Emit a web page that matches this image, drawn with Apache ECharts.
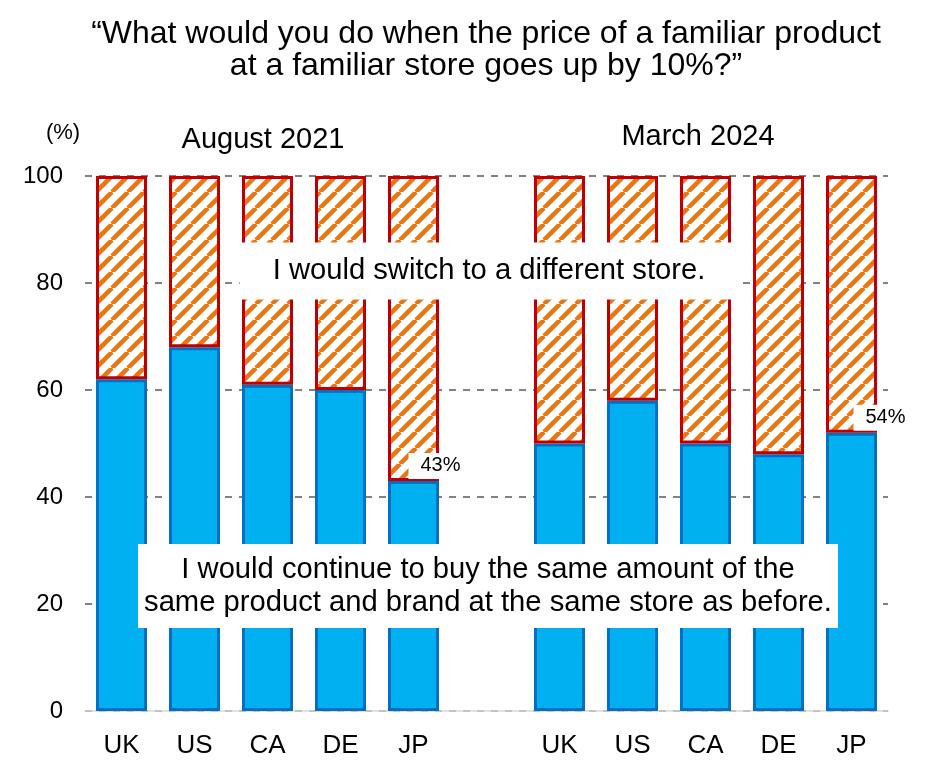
<!DOCTYPE html>
<html>
<head>
<meta charset="utf-8">
<script src="https://cdn.jsdelivr.net/npm/echarts@6/dist/echarts.min.js"></script>
<style>
  html, body { margin: 0; padding: 0; background: #fff; }
  #chart { width: 942px; height: 774px; }
</style>
</head>
<body>
<div id="chart"></div>
<script>
// categories: 5 countries per survey, blank slot between the two groups
const categories = ['UK', 'US', 'CA', 'DE', 'JP', '', 'UK', 'US', 'CA', 'DE', 'JP']
// "continue to buy the same" share (%)
const sameValues = [62, 68, 61, 60, 43, '-', 50, 58, 50, 48, 52]
// "switch to a different store" share (%)
const switchValues = [38, 32, 39, 40, 57, '-', 50, 42, 50, 52, 48]
// value labels shown on JP bars
const valueLabels = ['', '', '', '', '43%', '', '', '', '', '', '54%']
const yTicks = [0, 20, 40, 60, 80, 100]

const font = 'Liberation Sans, Arial, sans-serif'

// hatch tile for the "switch" bars
const makeHatch = () => {
  const size = 16
  const c = document.createElement('canvas')
  c.width = size
  c.height = size
  const ctx = c.getContext('2d')
  ctx.fillStyle = '#ffffff'
  ctx.fillRect(0, 0, size, size)
  ctx.strokeStyle = '#E97612'
  ctx.lineWidth = 4.5
  ctx.beginPath()
  for (let k = -1; k <= 1; k++) {
    ctx.moveTo(k * size, size)
    ctx.lineTo(k * size + size, 0)
  }
  ctx.stroke()
  return c
}

const chart = echarts.init(document.getElementById('chart'))

// labels sit on the hatched series so they draw above every bar
const switchData = switchValues.map((v, i) => {
  const item = { value: v }
  if (valueLabels[i]) {
    item.label = {
      show: true,
      position: 'insideBottom',
      distance: 0,
      offset: [i === 10 ? 29 : 22, -2],
      formatter: valueLabels[i],
      color: '#000',
      fontSize: 20,
      fontFamily: font,
      backgroundColor: '#fff',
      padding: [3, 2, 3, 12]
    }
  }
  return item
})

const option = {
  animation: false,
  backgroundColor: '#fff',
  textStyle: { fontFamily: font },
  title: {
    text: '\u201CWhat would you do when the price of a familiar product\nat a familiar store goes up by 10%?\u201D',
    left: 481,
    top: 13,
    textAlign: 'center',
    textStyle: { fontSize: 32, fontWeight: 'normal', color: '#000', lineHeight: 32, fontFamily: font }
  },
  grid: { left: 85, right: 54, top: 176, bottom: 63 },
  xAxis: {
    type: 'category',
    data: categories,
    axisTick: { show: false },
    axisLine: { lineStyle: { color: '#d9d9d9', width: 1.5 } },
    axisLabel: { color: '#000', fontSize: 26, margin: 22, fontFamily: font }
  },
  yAxis: {
    type: 'value',
    min: yTicks[0],
    max: yTicks[yTicks.length - 1],
    interval: 20,
    axisLine: { show: false },
    axisTick: { show: false },
    axisLabel: { color: '#000', fontSize: 24, margin: 22, fontFamily: font },
    splitLine: { lineStyle: { color: '#595959', width: 1.5, type: [7, 7] } }
  },
  series: [
    {
      name: 'same',
      type: 'bar',
      stack: 'total',
      barWidth: 51,
      data: sameValues,
      itemStyle: { color: '#00B0F0', borderColor: '#0070C0', borderWidth: 3 },
      z: 2
    },
    {
      name: 'switch',
      type: 'bar',
      stack: 'total',
      barWidth: 51,
      data: switchData,
      itemStyle: {
        color: { image: makeHatch(), repeat: 'repeat' },
        borderColor: '#C00000',
        borderWidth: 3
      },
      z: 3
    }
  ],
  graphic: [
    {
      type: 'text', x: 63, y: 133,
      style: { text: '(%)', font: '22px ' + font, fill: '#000', align: 'center', verticalAlign: 'middle' }
    },
    {
      type: 'text', x: 263, y: 140,
      style: { text: 'August 2021', font: '29px ' + font, fill: '#000', align: 'center', verticalAlign: 'middle' }
    },
    {
      type: 'text', x: 698, y: 137,
      style: { text: 'March 2024', font: '29px ' + font, fill: '#000', align: 'center', verticalAlign: 'middle' }
    },
    {
      type: 'text', x: 489, y: 271, z: 100,
      style: {
        text: 'I would switch to a different store.',
        font: '29.2px ' + font, fill: '#000',
        align: 'center', verticalAlign: 'middle',
        backgroundColor: '#fff',
        padding: [14, 33, 14, 33]
      }
    },
    {
      type: 'text', x: 488, y: 586, z: 100,
      style: {
        text: 'I would continue to buy the same amount of the\nsame product and brand at the same store as before.',
        font: '29.2px ' + font, fill: '#000',
        align: 'center', verticalAlign: 'middle',
        lineHeight: 33,
        backgroundColor: '#fff',
        padding: [9, 6, 9, 6]
      }
    }
  ]
}

chart.setOption(option)
</script>
</body>
</html>
